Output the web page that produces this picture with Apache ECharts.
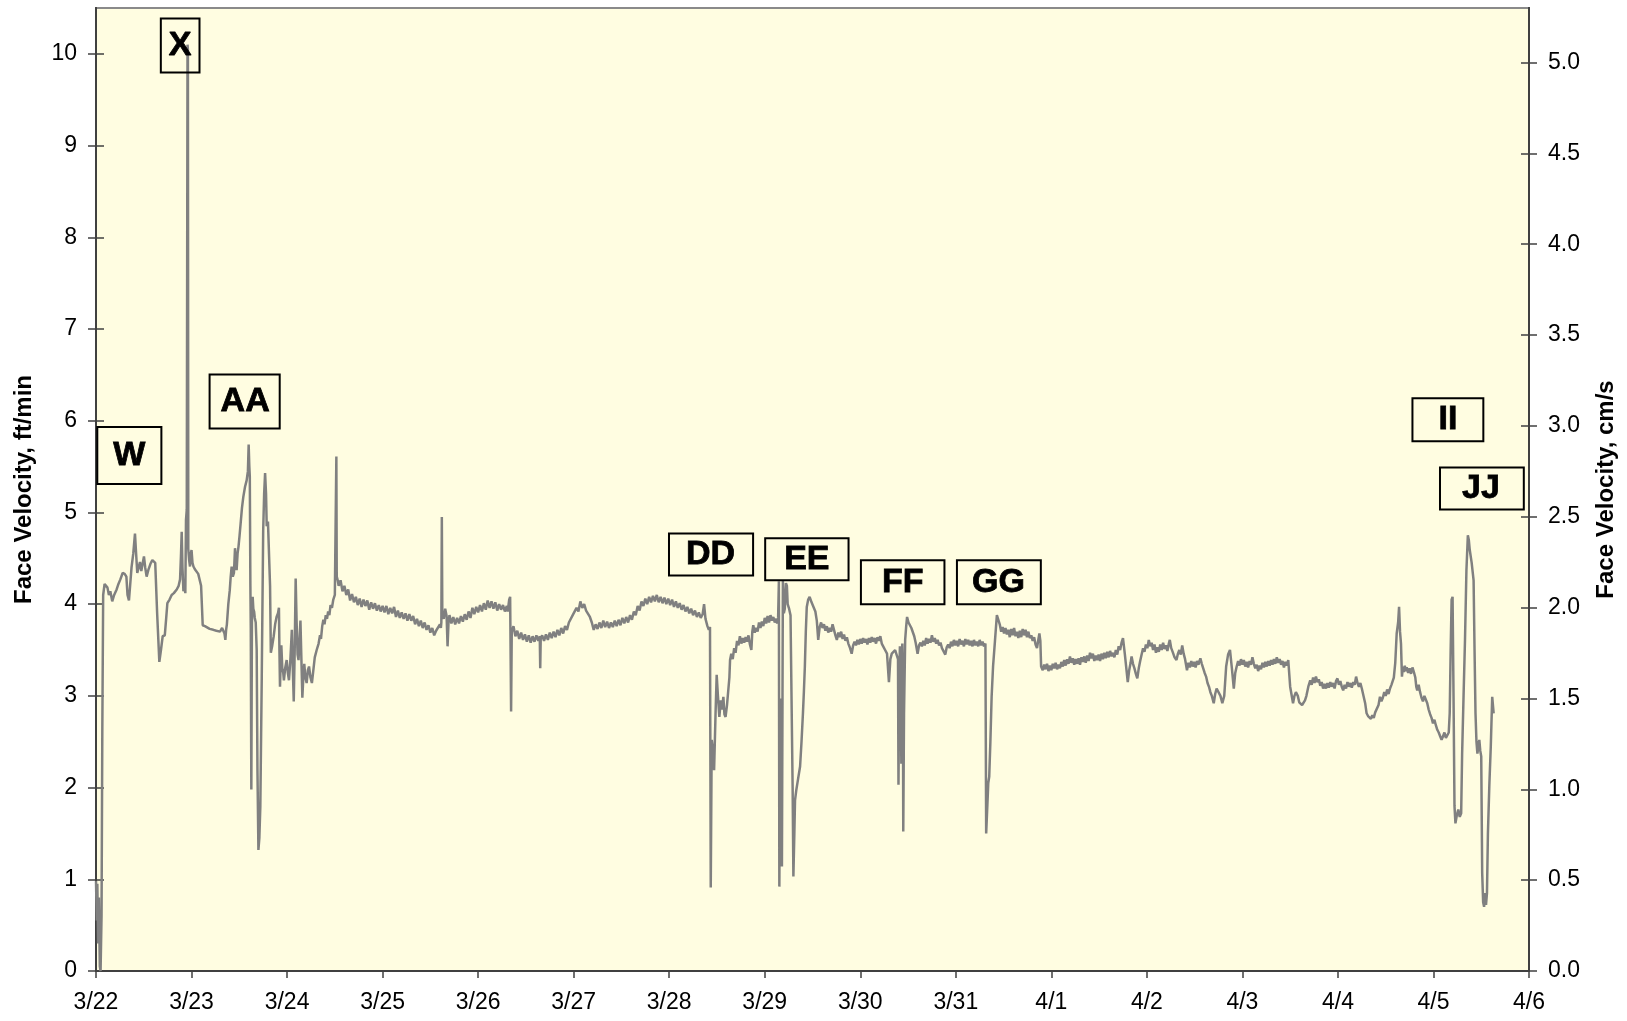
<!DOCTYPE html>
<html>
<head>
<meta charset="utf-8">
<title>Face Velocity</title>
<script src="https://cdn.jsdelivr.net/npm/echarts@6/dist/echarts.min.js"></script>
<style>
  html, body { margin: 0; padding: 0; background: #fff; }
  #chart { width: 1627px; height: 1021px; }
</style>
</head>
<body>
<div id="chart"></div>
<script>
// x = days after 3/22 00:00, y = face velocity ft/min
const dateLabels = ['3/22','3/23','3/24','3/25','3/26','3/27','3/28','3/29','3/30','3/31','4/1','4/2','4/3','4/4','4/5','4/6'];
const leftTicks = [0,1,2,3,4,5,6,7,8,9,10];
const rightTicks = [0,0.5,1,1.5,2,2.5,3,3.5,4,4.5,5];

const velMar22 = [
  [0.000,0.98],[0.008,0.55],[0.014,0.95],[0.022,0.30],[0.030,0.80],[0.040,0.05],[0.048,0.00],[0.058,0.60],[0.066,2.60],[0.075,4.10],
  [0.090,4.22],[0.105,4.20],[0.120,4.18],[0.135,4.10],[0.150,4.14],[0.170,4.03],[0.190,4.10],[0.216,4.16],[0.235,4.22],[0.255,4.27],
  [0.279,4.34],[0.300,4.33],[0.318,4.30],[0.330,4.10],[0.345,4.04],[0.358,4.06],[0.372,4.40],[0.390,4.55],[0.408,4.77],[0.420,4.55],
  [0.432,4.34],[0.446,4.40],[0.460,4.46],[0.474,4.36],[0.490,4.34],[0.502,4.52],[0.515,4.40],[0.530,4.30],[0.550,4.38],[0.570,4.44],
  [0.590,4.48],[0.607,4.49],[0.620,4.45],[0.640,3.90],[0.663,3.37],[0.680,3.50],[0.698,3.65],[0.720,3.66],[0.735,3.85],[0.747,4.01],
  [0.770,4.05],[0.792,4.10],[0.815,4.12],[0.845,4.16],[0.865,4.20],[0.880,4.27],[0.890,4.55],[0.897,4.79],[0.905,4.40],[0.915,4.14],
  [0.925,4.20],[0.935,4.12],[0.942,4.92],[0.950,5.03],[0.958,10.10],[0.962,10.05],[0.966,4.60],[0.975,4.48],[0.984,4.41],[0.992,4.55],
  [1.000,4.59],[1.010,4.45],[1.020,4.41],[1.035,4.38],[1.050,4.37],[1.070,4.33],[1.090,4.34],[1.100,4.20],[1.110,3.95],[1.117,3.77],
  [1.140,3.76],[1.158,3.75],[1.190,3.73],[1.228,3.72],[1.260,3.71],[1.298,3.70],[1.320,3.74],[1.333,3.75],[1.345,3.68],[1.354,3.61],
  [1.362,3.72],[1.370,3.78],[1.385,4.00],[1.400,4.15],[1.410,4.30],[1.420,4.41],[1.432,4.30],[1.444,4.34],[1.455,4.61],[1.465,4.45],
  [1.472,4.37],[1.482,4.55],[1.492,4.63],[1.503,4.75],[1.514,4.88],[1.528,5.05],[1.542,5.17],[1.560,5.28],[1.577,5.35],[1.590,5.45],
  [1.598,5.74],[1.605,5.50],[1.610,5.39],[1.616,4.20],[1.620,3.75],[1.626,1.98],[1.632,3.80],[1.640,4.08],[1.647,3.95],[1.655,3.92],
  [1.662,3.85],[1.672,3.80],[1.682,3.50],[1.690,2.20],[1.700,1.32],[1.710,1.45],[1.720,1.79],[1.735,3.20],[1.750,4.80],[1.760,5.20],
  [1.770,5.43],[1.780,5.20],[1.787,4.85],[1.800,4.90],[1.812,4.88],[1.822,4.20],[1.830,3.47],[1.845,3.55],[1.860,3.65],[1.875,3.78],
  [1.890,3.86],[1.905,3.90],[1.915,3.96],[1.920,3.50],[1.926,3.10],[1.934,3.40],[1.940,3.55],[1.950,3.30],[1.960,3.25],[1.967,3.17],
  [1.980,3.30],[1.996,3.39],[2.008,3.25],[2.020,3.17],[2.035,3.40],[2.050,3.72],[2.060,3.30],[2.070,2.94],[2.080,3.50],[2.090,4.28],
  [2.100,3.80],[2.110,3.45],[2.120,3.39],[2.130,3.60],[2.140,3.82],[2.150,3.40],[2.160,2.98],[2.170,3.20],[2.180,3.35],[2.192,3.20],
  [2.205,3.14],[2.218,3.28],[2.230,3.32],[2.245,3.20],[2.260,3.14],[2.275,3.12],[2.290,3.42],[2.310,3.50],[2.330,3.57],[2.345,3.66],
  [2.355,3.62],[2.368,3.76],[2.380,3.83],[2.392,3.78],[2.405,3.88],[2.418,3.84],[2.430,3.92],[2.443,3.88],[2.455,3.99],[2.470,3.96],
  [2.484,4.05],[2.500,4.10],[2.512,4.12],[2.516,5.61],[2.520,4.30],[2.530,4.26],[2.540,4.20],[2.560,4.26],[2.580,4.14],[2.600,4.20],
  [2.620,4.10],[2.640,4.16],[2.660,4.04],[2.680,4.11],[2.700,4.02],[2.720,4.08],[2.740,3.99],[2.760,4.06],[2.780,3.97],[2.800,4.05],
  [2.820,3.98],[2.840,4.04],[2.860,3.94],[2.880,4.02],[2.900,3.95],[2.920,4.01],[2.940,3.93],[2.960,3.99],[2.980,3.92]
];

const velMar25 = [
  [3.000,3.98],[3.020,3.91],[3.040,3.98],[3.060,3.89],[3.080,3.96],[3.100,3.90],[3.120,3.97],[3.140,3.86],[3.160,3.93],[3.180,3.85],
  [3.200,3.91],[3.220,3.84],[3.240,3.90],[3.260,3.82],[3.280,3.89],[3.300,3.82],[3.320,3.87],[3.340,3.78],[3.360,3.84],[3.380,3.76],
  [3.400,3.82],[3.420,3.74],[3.440,3.80],[3.460,3.72],[3.480,3.77],[3.500,3.69],[3.520,3.74],[3.540,3.66],[3.560,3.71],[3.580,3.70],
  [3.600,3.78],[3.610,3.74],[3.615,3.80],[3.620,4.95],[3.625,3.90],[3.640,3.84],[3.655,3.95],[3.670,3.87],[3.680,3.54],[3.690,3.80],
  [3.700,3.88],[3.720,3.79],[3.740,3.86],[3.760,3.78],[3.780,3.85],[3.800,3.79],[3.820,3.87],[3.840,3.81],[3.860,3.89],[3.880,3.83],
  [3.900,3.92],[3.920,3.85],[3.940,3.96],[3.960,3.89],[3.980,3.97],[4.000,3.91],[4.020,3.99],[4.040,3.92],[4.060,4.01],[4.080,3.94],
  [4.100,4.04],[4.120,3.96],[4.140,4.03],[4.160,3.95],[4.180,4.02],[4.200,3.93],[4.220,4.00],[4.240,3.94],[4.260,3.99],[4.280,3.92],
  [4.300,3.98],[4.310,3.92],[4.325,4.05],[4.335,4.08],[4.345,2.83],[4.352,3.70],[4.370,3.76],[4.390,3.65],[4.410,3.71],[4.430,3.62],
  [4.450,3.69],[4.470,3.61],[4.490,3.67],[4.510,3.59],[4.530,3.66],[4.550,3.58],[4.570,3.65],[4.590,3.59],[4.610,3.66],[4.630,3.60],
  [4.645,3.65],[4.650,3.30],[4.655,3.62],[4.670,3.66],[4.690,3.60],[4.710,3.67],[4.730,3.61],[4.750,3.69],[4.770,3.63],[4.790,3.70],
  [4.810,3.64],[4.830,3.72],[4.850,3.66],[4.870,3.74],[4.890,3.68],[4.910,3.76],[4.930,3.72],[4.950,3.80],[4.970,3.78],[4.990,3.88],
  [5.010,3.86],[5.030,3.96],[5.050,3.92],[5.070,4.03],[5.090,3.96],[5.110,4.00],[5.130,3.93],[5.150,3.95],[5.170,3.86],[5.190,3.80],
  [5.210,3.72],[5.230,3.78],[5.250,3.73],[5.270,3.80],[5.290,3.74],[5.310,3.82],[5.330,3.75],[5.350,3.81],[5.370,3.74],[5.390,3.80],
  [5.410,3.75],[5.430,3.82],[5.450,3.76],[5.470,3.83],[5.490,3.77],[5.510,3.85],[5.530,3.79],[5.550,3.86],[5.570,3.80],[5.590,3.88],
  [5.610,3.83],[5.630,3.92],[5.650,3.88],[5.670,3.98],[5.690,3.93],[5.710,4.03],[5.730,3.98],[5.750,4.06],[5.770,4.00],[5.790,4.08],
  [5.810,4.02],[5.830,4.09],[5.850,4.03],[5.870,4.10],[5.890,4.02],[5.910,4.08],[5.930,4.01],[5.950,4.07],[5.970,4.00],[5.990,4.06],
  [6.010,3.99],[6.030,4.05],[6.050,3.97],[6.070,4.03],[6.090,3.96],[6.110,4.01],[6.130,3.94],[6.150,3.99],[6.170,3.92],[6.190,3.97],
  [6.210,3.90],[6.230,3.95],[6.250,3.88],[6.270,3.93],[6.290,3.86],[6.310,3.91],[6.330,3.85],[6.350,3.89],[6.365,4.00],[6.380,3.84],
  [6.400,3.76],[6.415,3.72]
];

const velMar28 = [
  [6.427,3.75],[6.435,0.91],[6.445,2.52],[6.458,2.40],[6.470,2.19],[6.485,2.80],[6.497,3.23],[6.510,3.00],[6.525,2.77],[6.540,2.95],
  [6.552,2.85],[6.567,2.99],[6.578,2.80],[6.590,2.77],[6.605,2.90],[6.620,2.92],[6.630,3.20],[6.637,3.39],[6.650,3.46],[6.665,3.40],
  [6.680,3.52],[6.695,3.47],[6.710,3.60],[6.725,3.55],[6.740,3.65],[6.755,3.57],[6.770,3.63],[6.785,3.58],[6.800,3.64],[6.815,3.59],
  [6.830,3.66],[6.845,3.56],[6.860,3.50],[6.870,3.70],[6.880,3.77],[6.895,3.69],[6.910,3.74],[6.925,3.70],[6.940,3.80],[6.955,3.74],
  [6.970,3.81],[6.985,3.76],[7.000,3.85],[7.015,3.79],[7.030,3.87],[7.045,3.80],[7.060,3.88],[7.075,3.82],[7.090,3.86],[7.105,3.80],
  [7.120,3.84],[7.130,3.79],[7.140,3.85],[7.148,4.25],[7.153,0.92],[7.160,2.50],[7.165,2.97],[7.172,1.80],[7.180,1.14],[7.186,3.00],
  [7.190,4.26],[7.200,3.90],[7.210,3.95],[7.222,4.23],[7.232,4.20],[7.240,4.00],[7.255,3.95],[7.270,3.88],[7.282,3.86],[7.292,2.00],
  [7.300,1.03],[7.310,1.50],[7.317,1.86],[7.330,1.97],[7.350,2.10],[7.370,2.23],[7.385,2.50],[7.400,2.81],[7.410,3.05],[7.420,3.32],
  [7.430,3.70],[7.440,3.97],[7.455,4.05],[7.470,4.08],[7.490,4.02],[7.510,4.04],[7.530,3.92],[7.545,3.82],[7.560,3.61],[7.575,3.75],
  [7.590,3.80],[7.605,3.74],[7.620,3.78],[7.635,3.71],[7.650,3.76],[7.665,3.69],[7.680,3.74],[7.695,3.70],[7.710,3.78],[7.725,3.72],
  [7.740,3.66],[7.755,3.61],[7.770,3.69],[7.785,3.64],[7.800,3.70],[7.815,3.62],[7.830,3.67],[7.845,3.60],[7.860,3.64],[7.875,3.57],
  [7.890,3.53],[7.910,3.46],[7.925,3.55],[7.940,3.59],[7.955,3.55],[7.970,3.61],[7.985,3.56],[8.000,3.62],[8.015,3.57],[8.030,3.63],
  [8.045,3.58],[8.060,3.62],[8.075,3.56],[8.090,3.63],[8.105,3.58],[8.120,3.64],[8.135,3.59],[8.150,3.63],[8.165,3.57],[8.180,3.64],
  [8.195,3.60],[8.210,3.65],[8.225,3.57],[8.240,3.54],[8.260,3.50],[8.280,3.46],[8.300,3.15],[8.315,3.40],[8.330,3.46],[8.350,3.48],
  [8.365,3.50],[8.380,3.45],[8.395,3.40],[8.400,2.03],[8.408,3.20],[8.415,3.54],[8.423,3.30],[8.430,2.26],[8.436,3.40],[8.440,3.57],
  [8.446,3.20],[8.450,1.52],[8.458,2.80],[8.470,3.61],[8.480,3.75],[8.490,3.86],[8.505,3.80],[8.520,3.82],[8.535,3.74],[8.550,3.72],
  [8.565,3.65],[8.580,3.58],[8.600,3.46],[8.615,3.55],[8.630,3.58],[8.645,3.54],[8.660,3.60],[8.675,3.55],[8.690,3.63],[8.705,3.57],
  [8.720,3.62],[8.735,3.58],[8.750,3.66],[8.765,3.59],[8.780,3.63],[8.795,3.57],[8.810,3.61],[8.825,3.55],[8.840,3.58],[8.855,3.52],
  [8.870,3.49],[8.890,3.45],[8.905,3.53],[8.920,3.56],[8.935,3.52],[8.950,3.59],[8.965,3.54],[8.980,3.61],[8.995,3.55],[9.010,3.60],
  [9.025,3.54],[9.040,3.62],[9.055,3.56],[9.070,3.60],[9.085,3.54],[9.100,3.62],[9.115,3.56],[9.130,3.61],[9.145,3.55],[9.160,3.60],
  [9.175,3.54],[9.190,3.61],[9.205,3.55],[9.220,3.59],[9.235,3.54],[9.250,3.61],[9.265,3.55],[9.280,3.59],[9.295,3.54],[9.310,3.57],
  [9.318,1.50],[9.330,1.80],[9.340,2.05],[9.350,2.12],[9.362,2.50],[9.375,2.99],[9.390,3.32],[9.410,3.60],[9.430,3.88],[9.445,3.90],
  [9.460,3.78],[9.475,3.70],[9.490,3.75],[9.505,3.68],[9.520,3.74],[9.535,3.67],[9.550,3.72],[9.565,3.64],[9.580,3.73],[9.595,3.66],
  [9.610,3.74],[9.625,3.65],[9.640,3.70],[9.655,3.63],[9.670,3.71],[9.685,3.64],[9.700,3.73],[9.715,3.66],[9.730,3.72],[9.745,3.64],
  [9.760,3.70],[9.775,3.63],[9.790,3.66],[9.805,3.60],[9.820,3.64],[9.835,3.56],[9.850,3.52],[9.865,3.62],[9.875,3.68],[9.885,3.60]
];

const velApr1 = [
  [9.893,3.32],[9.910,3.28],[9.925,3.34],[9.940,3.29],[9.955,3.35],[9.970,3.27],[9.985,3.33],[10.000,3.28],[10.015,3.35],[10.030,3.30],
  [10.045,3.36],[10.060,3.29],[10.075,3.34],[10.090,3.30],[10.105,3.37],[10.120,3.32],[10.135,3.39],[10.150,3.33],[10.165,3.40],[10.180,3.35],
  [10.195,3.43],[10.210,3.36],[10.225,3.41],[10.240,3.34],[10.255,3.40],[10.270,3.35],[10.285,3.41],[10.300,3.34],[10.315,3.42],[10.330,3.37],
  [10.345,3.43],[10.360,3.36],[10.375,3.44],[10.390,3.38],[10.405,3.47],[10.420,3.41],[10.435,3.46],[10.450,3.38],[10.465,3.44],[10.480,3.39],
  [10.495,3.45],[10.510,3.38],[10.525,3.46],[10.540,3.40],[10.555,3.47],[10.570,3.41],[10.585,3.48],[10.600,3.42],[10.615,3.49],[10.630,3.43],
  [10.645,3.47],[10.660,3.42],[10.675,3.50],[10.690,3.45],[10.705,3.54],[10.720,3.50],[10.735,3.58],[10.750,3.63],[10.770,3.45],[10.800,3.15],
  [10.815,3.28],[10.830,3.36],[10.840,3.43],[10.855,3.35],[10.870,3.30],[10.885,3.24],[10.900,3.19],[10.915,3.30],[10.930,3.38],[10.945,3.45],
  [10.960,3.52],[10.975,3.48],[10.990,3.56],[11.005,3.52],[11.020,3.61],[11.035,3.54],[11.050,3.58],[11.065,3.50],[11.080,3.56],[11.095,3.47],
  [11.110,3.53],[11.125,3.48],[11.140,3.56],[11.155,3.50],[11.170,3.58],[11.185,3.51],[11.200,3.55],[11.215,3.49],[11.230,3.57],[11.240,3.61],
  [11.255,3.52],[11.270,3.48],[11.290,3.42],[11.310,3.39],[11.325,3.46],[11.340,3.50],[11.355,3.45],[11.370,3.55],[11.385,3.46],[11.400,3.40],
  [11.420,3.28],[11.435,3.36],[11.450,3.31],[11.465,3.38],[11.480,3.32],[11.495,3.37],[11.510,3.31],[11.525,3.38],[11.540,3.34],[11.560,3.41],
  [11.575,3.35],[11.590,3.30],[11.605,3.25],[11.620,3.21],[11.635,3.14],[11.650,3.10],[11.665,3.04],[11.680,3.00],[11.700,2.92],[11.715,3.02],
  [11.730,3.08],[11.750,3.06],[11.770,3.00],[11.790,2.92],[11.810,3.00],[11.830,3.32],[11.850,3.45],[11.870,3.50],[11.890,3.30],[11.910,3.08],
  [11.925,3.25],[11.940,3.32],[11.955,3.38],[11.970,3.33],[11.985,3.40],[12.000,3.34],[12.015,3.39],[12.030,3.32],[12.045,3.37],[12.060,3.31],
  [12.075,3.38],[12.090,3.34],[12.105,3.42],[12.120,3.35],[12.135,3.30],[12.150,3.34],[12.165,3.27],[12.180,3.33],[12.195,3.29],[12.210,3.36],
  [12.225,3.31],[12.240,3.37],[12.255,3.32],[12.270,3.38],[12.285,3.33],[12.300,3.39],[12.315,3.34],[12.330,3.40],[12.345,3.35],[12.360,3.42],
  [12.375,3.36],[12.390,3.40],[12.405,3.34],[12.420,3.38],[12.435,3.31],[12.450,3.37],[12.465,3.33],[12.480,3.39],[12.500,3.10],[12.530,2.92],
  [12.545,3.00],[12.560,3.04],[12.580,3.00],[12.595,2.93],[12.610,2.95],[12.625,2.90],[12.640,2.88],[12.655,2.95],[12.670,3.00],[12.690,3.10],
  [12.710,3.17],[12.725,3.12],[12.740,3.20],[12.755,3.14],[12.770,3.21],[12.785,3.15],[12.800,3.18],[12.815,3.11],[12.830,3.15],[12.845,3.08],
  [12.860,3.13],[12.875,3.08],[12.890,3.14],[12.905,3.09],[12.920,3.15],[12.935,3.10],[12.950,3.14],[12.965,3.08],[12.980,3.16],[12.995,3.19],
  [13.010,3.12],[13.025,3.16],[13.040,3.10],[13.055,3.06],[13.070,3.12],[13.085,3.08],[13.100,3.15],[13.115,3.10],[13.130,3.14],[13.145,3.09],
  [13.160,3.15],[13.175,3.12],[13.190,3.21],[13.205,3.14],[13.220,3.10],[13.235,3.14],[13.250,3.08],[13.270,3.06],[13.285,2.92],[13.300,2.81],
  [13.315,2.78],[13.330,2.80],[13.345,2.75],[13.360,2.79],[13.375,2.76],[13.390,2.82],[13.410,2.81],[13.425,2.90],[13.440,2.99],[13.455,2.94],
  [13.470,2.98],[13.485,3.04],[13.500,3.00],[13.515,3.07],[13.530,3.02],[13.545,3.08],[13.560,3.12],[13.575,3.10],[13.585,3.20],[13.600,3.36],
  [13.615,3.68],[13.630,3.80],[13.640,3.97],[13.650,3.70],[13.660,3.57],[13.670,3.21],[13.680,3.32],[13.690,3.26],[13.700,3.33],[13.710,3.27],
  [13.720,3.31],[13.735,3.25],[13.750,3.30],[13.765,3.24],[13.780,3.31],[13.795,3.26],[13.810,3.20],[13.820,3.10],[13.830,3.06],[13.845,3.12],
  [13.860,3.04],[13.875,2.98],[13.890,2.94],[13.905,3.00],[13.920,3.02],[13.935,2.92],[13.950,2.85],[13.965,2.80],[13.980,2.76],[13.995,2.70],
  [14.010,2.74],[14.025,2.68],[14.040,2.63],[14.055,2.60],[14.070,2.56],[14.085,2.52],[14.100,2.56],[14.115,2.60],[14.130,2.54],[14.145,2.57],
  [14.160,2.60],[14.170,2.81],[14.180,3.50],[14.190,4.05],[14.200,4.08],[14.210,3.00],[14.220,1.80],[14.230,1.61],[14.245,1.70],[14.260,1.76],
  [14.275,1.68],[14.290,1.72],[14.300,2.37],[14.315,3.00],[14.330,3.61],[14.345,4.37],[14.360,4.75],[14.370,4.70],[14.380,4.59],[14.400,4.45],
  [14.420,4.26],[14.430,3.50],[14.440,2.81],[14.450,2.50],[14.460,2.37],[14.470,2.45],[14.480,2.52],[14.490,2.40],[14.500,2.34],[14.510,1.07],
  [14.520,0.75],[14.530,0.70],[14.540,0.85],[14.550,0.72],[14.560,0.85],[14.570,1.50],[14.585,2.03],[14.600,2.45],[14.615,2.99],[14.630,2.81]
];

// boxed event letters, anchored at the centre of each box
const noteNames  = ['W', 'X', 'AA', 'DD', 'EE', 'FF', 'GG', 'II', 'JJ'];
const noteDays   = [0.349, 0.881, 1.556, 6.438, 7.441, 8.444, 9.451, 14.151, 14.507];
const noteValues = [5.62, 10.09, 6.21, 4.54, 4.49, 4.24, 4.24, 6.01, 5.26];
// padding [top, right, bottom, left] of each box
const notePads = [[5,16,18,16],[5,8,15,8],[6,10,14,11],[5,18,3,17],[5,19,3,19],[6,21,4,21],[6,16,4,15],[5,26,4,26],[6,24,2,22]];

const FONT = 'Liberation Sans, Arial, sans-serif';
const axisColor = '#404040';

const chart = echarts.init(document.getElementById('chart'));

const readings = velMar22.concat(velMar25, velMar28, velApr1);

const notes = noteNames.map((n, i) => ({
  value: [noteDays[i], noteValues[i]],
  name: n,
  label: { padding: notePads[i] }
}));

const yBase = {
  type: 'value',
  min: 0,
  splitLine: { show: false },
  axisLine: { show: true, lineStyle: { color: axisColor, width: 2 } }
};

const option = {
  backgroundColor: '#ffffff',
  animation: false,
  grid: {
    left: 96, right: 98, top: 8, bottom: 50,
    show: true,
    backgroundColor: '#FFFDE1',
    borderColor: '#8a8a8a',
    borderWidth: 2
  },
  xAxis: {
    type: 'value',
    min: 0, max: 15, interval: 1,
    splitLine: { show: false },
    axisLine: { lineStyle: { color: axisColor, width: 2 } },
    axisTick: { length: 7, lineStyle: { color: axisColor, width: 1.5 } },
    axisLabel: {
      margin: 20, color: '#000', fontSize: 23, fontFamily: FONT,
      formatter: v => dateLabels[Math.round(v)]
    }
  },
  yAxis: [
    Object.assign({}, yBase, {
      position: 'left', max: 10.5,
      name: 'Face Velocity, ft/min', nameLocation: 'middle', nameRotate: 90, nameGap: 60,
      nameTextStyle: { color: '#000', fontSize: 24, fontWeight: 'bold', fontFamily: FONT },
      axisTick: { length: 8, customValues: leftTicks, lineStyle: { color: axisColor, width: 1.5 } },
      axisLabel: { margin: 19, color: '#000', fontSize: 23, fontFamily: FONT, customValues: leftTicks }
    }),
    Object.assign({}, yBase, {
      position: 'left', max: 10.5,
      axisTick: { inside: true, length: 8, customValues: leftTicks, lineStyle: { color: axisColor, width: 1.5 } },
      axisLabel: { show: false }
    }),
    Object.assign({}, yBase, {
      position: 'right', max: 5.3,
      name: 'Face Velocity, cm/s', nameLocation: 'middle', nameRotate: 90, nameGap: 65,
      nameTextStyle: { color: '#000', fontSize: 24, fontWeight: 'bold', fontFamily: FONT },
      axisTick: { length: 8, customValues: rightTicks, lineStyle: { color: axisColor, width: 1.5 } },
      axisLabel: {
        margin: 19, color: '#000', fontSize: 23, fontFamily: FONT, customValues: rightTicks,
        formatter: v => v.toFixed(1)
      }
    }),
    Object.assign({}, yBase, {
      position: 'right', max: 5.3,
      axisTick: { inside: true, length: 8, customValues: rightTicks, lineStyle: { color: axisColor, width: 1.5 } },
      axisLabel: { show: false }
    })
  ],
  series: [
    {
      name: 'Face velocity',
      type: 'line',
      data: readings,
      showSymbol: false,
      clip: true,
      lineStyle: { color: '#808080', width: 2.5 }
    },
    {
      name: 'events',
      type: 'scatter',
      data: notes,
      symbol: 'circle',
      symbolSize: 2,
      itemStyle: { color: 'rgba(0,0,0,0)' },
      silent: true,
      z: 5,
      label: {
        show: true,
        position: 'inside',
        formatter: '{b}',
        color: '#000',
        opacity: 1,
        textBorderColor: '#000',
        textBorderWidth: 0.8,
        fontSize: 34,
        fontWeight: 'bold',
        fontFamily: FONT,
        lineHeight: 34,
        borderColor: '#000',
        borderWidth: 2
      }
    }
  ]
};

chart.setOption(option);
</script>
</body>
</html>
